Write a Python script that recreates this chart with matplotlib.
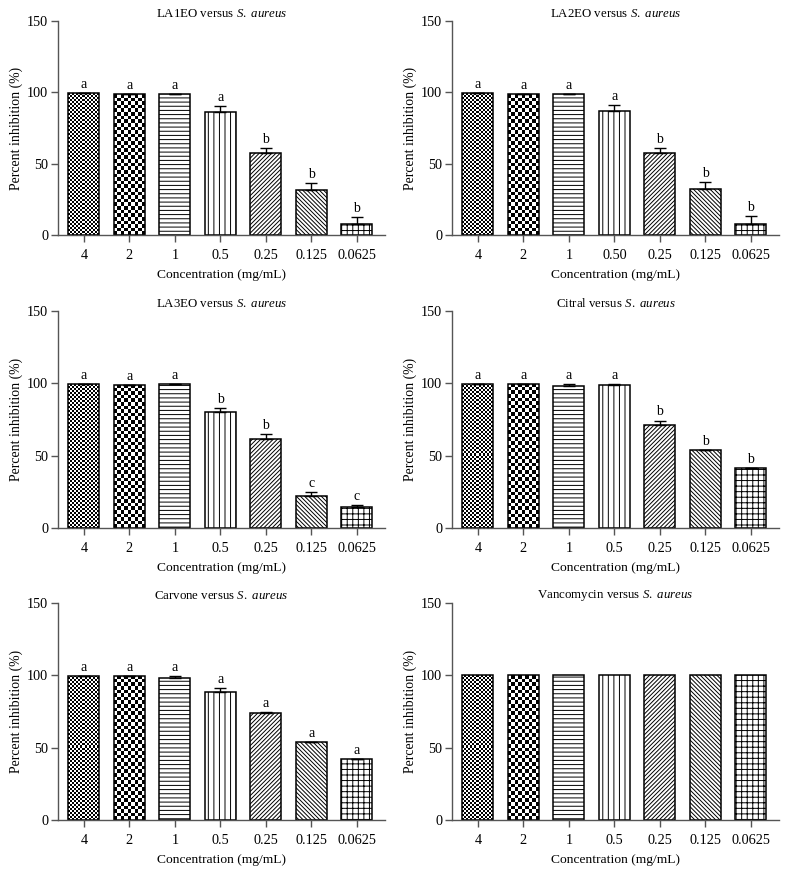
import matplotlib
matplotlib.use('Agg')
import matplotlib.pyplot as plt
import numpy as np

plt.rcParams['font.family'] = 'Liberation Serif'
plt.rcParams['mathtext.fontset'] = 'custom'
plt.rcParams['mathtext.rm'] = 'Liberation Serif'
plt.rcParams['mathtext.it'] = 'Liberation Serif:italic'
plt.rcParams['hatch.linewidth'] = 0.7

# данные
concs = ['4', '2', '1', '0.5', '0.25', '0.125', '0.0625']
concs_la2 = ['4', '2', '1', '0.50', '0.25', '0.125', '0.0625']

la1_vals = [99.5, 98.5, 99, 86.5, 57.3, 31.5, 7.5]
la1_err = [0, 0, 0, 4, 3.5, 5, 5.3]
la1_let = ['a', 'a', 'a', 'a', 'b', 'b', 'b']

la2_vals = [99.5, 98.5, 99, 87, 57.5, 32, 7.5]
la2_err = [0, 0, 0, 4, 3.5, 5, 5.5]
la2_let = ['a', 'a', 'a', 'a', 'b', 'b', 'b']

la3_vals = [99.4, 98.9, 99.6, 80.1, 61.4, 22.1, 14.7]
la3_err = [0, 0, 0, 2.7, 3.7, 2.7, 1.2]
la3_let = ['a', 'a', 'a', 'b', 'b', 'c', 'c']

cit_vals = [99.6, 99.6, 98.5, 98.7, 71.3, 53.6, 41.2]
cit_err = [0, 0, 0.9, 1, 3, 0.3, 0.4]
cit_let = ['a', 'a', 'a', 'a', 'b', 'b', 'b']

car_vals = [99.6, 99.6, 98.5, 88.3, 74.1, 53.6, 41.9]
car_err = [0, 0, 1, 2.6, 0.5, 0.4, 0.2]
car_let = ['a', 'a', 'a', 'a', 'a', 'a', 'a']

van_vals = [100, 100, 100, 100, 100, 100, 100]

panels = [
    ('LA1EO', concs, la1_vals, la1_err, la1_let),
    ('LA2EO', concs_la2, la2_vals, la2_err, la2_let),
    ('LA3EO', concs, la3_vals, la3_err, la3_let),
    ('Citral', concs, cit_vals, cit_err, cit_let),
    ('Carvone', concs, car_vals, car_err, car_let),
    ('Vancomycin', concs, van_vals, None, None),
]

# стиль заливки столбцов: None = шахматка
hatches = [None, None, '----', '|||', '////////', '\\' * 8, '+++']
cells = [2.0, 3.6]  # размер клетки шахматки, px

W, H = 788, 874
cols = [(58, 385), (452, 779)]
rows = [(21, 235), (311, 528), (603, 820)]
XLIM = (-0.57, 6.62)
GRAY = '#555555'

fig = plt.figure(figsize=(W / 100, H / 100), dpi=100)


def checker(ax, patch, cell_px):
    x0, y0 = patch.get_x(), patch.get_y()
    w, h = patch.get_width(), patch.get_height()
    ppx = ax.bbox.width / (XLIM[1] - XLIM[0])
    ppy = ax.bbox.height / 150
    nx = max(1, int(round(w * ppx / cell_px)))
    ny = max(1, int(round(h * ppy / cell_px)))
    img = np.indices((ny, nx)).sum(axis=0) % 2
    im = ax.imshow(img, extent=[x0, x0 + w, y0, y0 + h], cmap='gray',
                   origin='lower', aspect='auto', interpolation='nearest',
                   zorder=1.5)
    im.set_clip_path(patch)


for i, (name, labels, vals, errs, lets) in enumerate(panels):
    c, r = i % 2, i // 2
    l, rt = cols[c]
    t, b = rows[r]
    ax = fig.add_axes([l / W, 1 - b / H, (rt - l) / W, (b - t) / H])
    x = np.arange(len(vals))
    bars = ax.bar(x, vals, width=0.68, facecolor='white', edgecolor='black',
                  linewidth=1.1, zorder=2)
    for j, p in enumerate(bars):
        if hatches[j] is None:
            p.set_facecolor('none')
            checker(ax, p, cells[j])
        else:
            p.set_hatch(hatches[j])
    if errs is not None:
        ax.errorbar(x, vals, yerr=[np.zeros(len(vals)), errs], fmt='none',
                    ecolor='black', elinewidth=1, capsize=4.5, capthick=1,
                    zorder=3)
        for j in range(len(vals)):
            ax.text(x[j], vals[j] + errs[j] + 1.5, lets[j], ha='center',
                    va='bottom', fontsize=10)
    ax.set_xlim(*XLIM)
    ax.set_ylim(0, 150)
    ax.set_yticks([0, 50, 100, 150])
    ax.set_xticks(x)
    ax.set_xticklabels(labels)
    ax.tick_params(axis='both', labelsize=10.3, color=GRAY, length=5, width=1)
    ax.tick_params(axis='y', pad=2)
    ax.tick_params(axis='x', pad=5)
    for s in ['top', 'right']:
        ax.spines[s].set_visible(False)
    for s in ['left', 'bottom']:
        ax.spines[s].set_color(GRAY)
        ax.spines[s].set_linewidth(1)
    ax.set_title(name + r' versus $\mathit{S.\ aureus}$', fontsize=9.3, pad=3)
    ax.set_ylabel('Percent inhibition (%)', fontsize=9.9, labelpad=3)
    ax.set_xlabel('Concentration (mg/mL)', fontsize=9.7, labelpad=5)

plt.savefig('out.png', dpi=100)
